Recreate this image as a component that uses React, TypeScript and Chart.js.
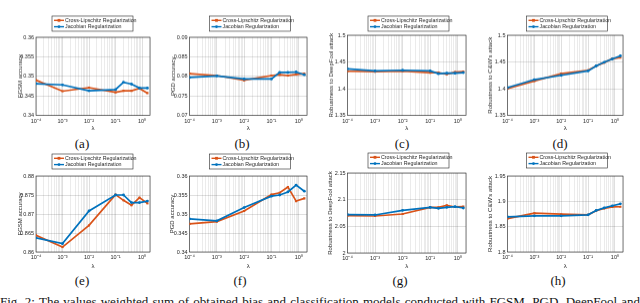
import React, { useEffect, useRef } from "react";
import { Chart, registerables } from "chart.js";
Chart.register(...registerables);

// ---------- data ----------
const lambdas = [1e-4, 1e-3, 1e-2, 0.1, 0.2, 0.4, 0.8, 1.6];
const seriesNames = ["Cross-Lipschitz Regularization", "Jacobian Regularization"];
const xTickValues = [1e-4, 1e-3, 1e-2, 1e-1, 1];
const xTickLabels = ["10\u207B\u2074", "10\u207B\u00B3", "10\u207B\u00B2", "10\u207B\u00B9", "10\u2070"];
const xRange = [1e-4, 2];
const yTitles = ["FGSM accuracy", "PGD accuracy", "Robustness to DeepFool attack", "Robustness to C&W's attack"];
const subLabels = ["(a)", "(b)", "(c)", "(d)", "(e)", "(f)", "(g)", "(h)"];
const caption = "Fig. 2: The values weighted sum of obtained bias and classification models conducted with FGSM, PGD, DeepFool and";

const yTicksA = [0.34, 0.345, 0.35, 0.355, 0.36];
const yTicksB = [0.07, 0.075, 0.08, 0.085, 0.09];
const yTicksC = [1.35, 1.4, 1.45, 1.5];
const yTicksD = [1.35, 1.4, 1.45, 1.5];
const yTicksE = [0.86, 0.865, 0.87, 0.875, 0.88];
const yTicksF = [0.34, 0.345, 0.35, 0.355, 0.36];
const yTicksG = [2, 2.05, 2.1, 2.15];
const yTicksH = [1.8, 1.85, 1.9, 1.95];

const aCL = [0.3490, 0.3462, 0.3471, 0.3459, 0.3463, 0.3463, 0.3469, 0.3457];
const aJR = [0.3481, 0.3478, 0.3463, 0.3466, 0.3485, 0.3480, 0.3470, 0.3470];
const bCL = [0.0807, 0.0802, 0.0790, 0.0802, 0.0804, 0.0802, 0.0805, 0.0807];
const bJR = [0.0797, 0.0801, 0.0793, 0.0793, 0.0810, 0.0810, 0.0811, 0.0804];
const cCL = [1.4325, 1.4319, 1.4325, 1.4300, 1.4300, 1.4269, 1.4310, 1.4320];
const cJR = [1.4369, 1.4331, 1.4344, 1.4331, 1.4280, 1.4290, 1.4290, 1.4300];
const dCL = [1.4000, 1.4144, 1.4280, 1.4344, 1.4425, 1.4488, 1.4560, 1.4580];
const dJR = [1.4019, 1.4169, 1.4250, 1.4331, 1.4425, 1.4494, 1.4556, 1.4613];
const eCL = [0.8644, 0.8613, 0.8670, 0.8751, 0.8736, 0.8723, 0.8743, 0.8728];
const eJR = [0.8637, 0.8622, 0.8708, 0.8750, 0.8750, 0.8730, 0.8730, 0.8734];
const fCL = [0.3474, 0.3480, 0.3508, 0.3551, 0.3556, 0.3571, 0.3534, 0.3541];
const fJR = [0.3487, 0.3482, 0.3517, 0.3547, 0.3550, 0.3558, 0.3576, 0.3560];
const gCL = [2.0700, 2.0694, 2.0731, 2.0856, 2.0856, 2.0894, 2.0863, 2.0869];
const gJR = [2.0719, 2.0713, 2.0800, 2.0856, 2.0838, 2.0856, 2.0869, 2.0844];
const hCL = [1.8660, 1.8766, 1.8746, 1.8733, 1.8813, 1.8860, 1.8890, 1.8893];
const hJR = [1.8693, 1.8713, 1.8713, 1.8733, 1.8820, 1.8872, 1.8912, 1.8951];

// ---------- styles / layout ----------
const ORANGE = "#D95319";
const BLUE = "#0072BD";
const TXT = "#262626";
const FONT = "'Liberation Sans', Arial, sans-serif";

type Layout = { plotL: number; plotR: number; plotT: number; plotB: number; titleX: number; legendCX: number; legendTop: number; lambdaY: number; labelCX: number; labelCY: number };

const panels: { yTitle: string; yTicks: number[]; cl: number[]; jr: number[]; label: string; L: Layout }[] = [
  { yTitle: yTitles[0], yTicks: yTicksA, cl: aCL, jr: aJR, label: subLabels[0], L: { plotL: 36, plotR: 150, plotT: 37, plotB: 115, titleX: 20, legendCX: 92.5, legendTop: 16, lambdaY: 127.5, labelCX: 82, labelCY: 144 } },
  { yTitle: yTitles[1], yTicks: yTicksB, cl: bCL, jr: bJR, label: subLabels[1], L: { plotL: 189, plotR: 307, plotT: 37, plotB: 115, titleX: 172.5, legendCX: 249.5, legendTop: 16, lambdaY: 127.5, labelCX: 242, labelCY: 144 } },
  { yTitle: yTitles[2], yTicks: yTicksC, cl: cCL, jr: cJR, label: subLabels[2], L: { plotL: 347, plotR: 466, plotT: 35, plotB: 115, titleX: 330.5, legendCX: 408, legendTop: 16, lambdaY: 127.5, labelCX: 402, labelCY: 144 } },
  { yTitle: yTitles[3], yTicks: yTicksD, cl: dCL, jr: dJR, label: subLabels[3], L: { plotL: 507, plotR: 623, plotT: 35, plotB: 115, titleX: 489.5, legendCX: 566.5, legendTop: 16, lambdaY: 127.5, labelCX: 560, labelCY: 144 } },
  { yTitle: yTitles[0], yTicks: yTicksE, cl: eCL, jr: eJR, label: subLabels[4], L: { plotL: 36, plotR: 150, plotT: 176, plotB: 252, titleX: 20, legendCX: 92.5, legendTop: 154, lambdaY: 266, labelCX: 82, labelCY: 281 } },
  { yTitle: yTitles[1], yTicks: yTicksF, cl: fCL, jr: fJR, label: subLabels[5], L: { plotL: 189, plotR: 307, plotT: 176, plotB: 252, titleX: 171.5, legendCX: 249.5, legendTop: 154, lambdaY: 266, labelCX: 240, labelCY: 281 } },
  { yTitle: yTitles[2], yTicks: yTicksG, cl: gCL, jr: gJR, label: subLabels[6], L: { plotL: 347, plotR: 466, plotT: 173, plotB: 253, titleX: 329.5, legendCX: 408, legendTop: 153, lambdaY: 266, labelCX: 400, labelCY: 281 } },
  { yTitle: yTitles[3], yTicks: yTicksH, cl: hCL, jr: hJR, label: subLabels[7], L: { plotL: 507, plotR: 623, plotT: 176, plotB: 252, titleX: 489.5, legendCX: 566.5, legendTop: 153, lambdaY: 266, labelCX: 558, labelCY: 281 } },
];

const isPow10 = (v: number) => xTickValues.some((t) => Math.abs(v - t) / t < 1e-6);
const gridPositions = (): number[] => {
  const out: number[] = [];
  for (let e = -4; e <= 0; e++) for (let m = 1; m <= 9; m++) {
    const v = m * Math.pow(10, e);
    if (v <= xRange[1] * 1.0001) out.push(Number(v.toPrecision(6)));
  }
  if (out[out.length - 1] < xRange[1]) out.push(xRange[1]);
  return out;
};
const fmtY = (v: number) => String(Number(v.toFixed(4)));

function geom(L: Layout) {
  const x0 = L.titleX - 5;
  const y0 = L.legendTop - 1;
  const W = L.plotR + 6 - x0;
  const H = L.lambdaY + 4 - y0;
  return { x0, y0, W, H };
}

function Panel({ p }: { p: (typeof panels)[number] }) {
  const ref = useRef<HTMLCanvasElement | null>(null);
  const { x0, y0, W, H } = geom(p.L);
  useEffect(() => {
    const L = p.L;
    const frame = {
      id: "frameLegend",
      beforeDatasetsDraw(chart: any) {
        const { ctx, chartArea: a } = chart;
        ctx.save();
        ctx.strokeStyle = TXT;
        ctx.lineWidth = 0.6;
        ctx.strokeRect(a.left, a.top, a.right - a.left, a.bottom - a.top);
        ctx.restore();
      },
      afterDraw(chart: any) {
        const { ctx } = chart;
        const lw = 81, lh = 15;
        const lx = L.legendCX - x0 - lw / 2;
        const ly = L.legendTop - y0;
        ctx.save();
        ctx.fillStyle = "#fff";
        ctx.fillRect(lx, ly, lw, lh);
        ctx.strokeStyle = TXT;
        ctx.lineWidth = 0.6;
        ctx.strokeRect(lx, ly, lw, lh);
        const rows = [
          { name: seriesNames[0], color: ORANGE, y: ly + 4.3, shape: "rect" },
          { name: seriesNames[1], color: BLUE, y: ly + 10.6, shape: "circle" },
        ];
        ctx.font = `5.3px ${FONT}`;
        ctx.textBaseline = "middle";
        ctx.textAlign = "left";
        for (const r of rows) {
          ctx.strokeStyle = r.color;
          ctx.lineWidth = 1.4;
          ctx.beginPath();
          ctx.moveTo(lx + 2, r.y);
          ctx.lineTo(lx + 12, r.y);
          ctx.stroke();
          ctx.fillStyle = r.color;
          if (r.shape === "rect") ctx.fillRect(lx + 5.6, r.y - 1.4, 2.8, 2.8);
          else { ctx.beginPath(); ctx.arc(lx + 7, r.y, 1.4, 0, Math.PI * 2); ctx.fill(); }
          ctx.fillStyle = TXT;
          ctx.fillText(r.name, lx + 13, r.y + 0.3);
        }
        ctx.restore();
      },
    };
    const mk = (arr: number[]) => lambdas.map((x, i) => ({ x, y: arr[i] }));
    const chart = new Chart(ref.current as HTMLCanvasElement, {
      type: "line",
      data: {
        datasets: [
          { label: seriesNames[0], data: mk(p.cl), borderColor: ORANGE, backgroundColor: ORANGE, borderWidth: 1.7, pointStyle: "rect", pointRadius: 1.5, pointBorderWidth: 0, order: 2, tension: 0 },
          { label: seriesNames[1], data: mk(p.jr), borderColor: BLUE, backgroundColor: BLUE, borderWidth: 1.7, pointStyle: "circle", pointRadius: 1.4, pointBorderWidth: 0, order: 1, tension: 0 },
        ],
      },
      options: {
        responsive: false,
        animation: false,
        devicePixelRatio: 1,
        layout: { padding: { left: 0, top: L.plotT - y0, right: 6, bottom: 0 } },
        plugins: { legend: { display: false }, tooltip: { enabled: false }, title: { display: false } },
        scales: {
          x: {
            type: "logarithmic",
            min: xRange[0],
            max: xRange[1],
            afterBuildTicks: (s: any) => { s.ticks = gridPositions().map((v) => ({ value: v, major: isPow10(v) })); },
            afterFit: (s: any) => { s.height = H - (L.plotB - y0); },
            border: { display: false },
            grid: {
              drawTicks: false,
              lineWidth: 0.8,
              color: (c: any) => (c.tick && isPow10(c.tick.value) ? "rgba(0,0,0,0.16)" : "rgba(0,0,0,0.10)"),
            },
            ticks: {
              autoSkip: false,
              maxRotation: 0,
              padding: 2.5,
              color: TXT,
              font: { family: FONT, size: 5.5 },
              callback: (v: any) => {
                const i = xTickValues.findIndex((t) => Math.abs(Number(v) - t) / t < 1e-6);
                return i >= 0 ? xTickLabels[i] : "";
              },
            },
            title: { display: true, text: "\u03BB", color: TXT, font: { family: FONT, size: 6 }, padding: { top: 0, bottom: 0.4 } },
          },
          y: {
            type: "linear",
            min: p.yTicks[0],
            max: p.yTicks[p.yTicks.length - 1],
            afterBuildTicks: (s: any) => { s.ticks = p.yTicks.map((v) => ({ value: v })); },
            afterFit: (s: any) => { s.width = L.plotL - x0; },
            border: { display: false },
            grid: { drawTicks: false, lineWidth: 0.8, color: "rgba(0,0,0,0.16)" },
            ticks: { padding: 2, color: TXT, font: { family: FONT, size: 5.5 }, callback: (v: any) => fmtY(Number(v)) },
            title: { display: true, text: p.yTitle, color: TXT, font: { family: FONT, size: 6 }, padding: { top: 1.4, bottom: 0 } },
          },
        },
      },
      plugins: [frame],
    } as any);
    return () => chart.destroy();
  }, []);
  return (
    <canvas
      ref={ref}
      width={W}
      height={H}
      style={{ position: "absolute", left: x0, top: y0, width: W, height: H }}
    />
  );
}

export default function App() {
  const words = caption.split(" ");
  return (
    <div style={{ position: "absolute", left: 0, top: 0, width: 640, height: 303, overflow: "hidden", background: "#fff" }}>
      {panels.map((p, i) => (
        <Panel key={i} p={p} />
      ))}
      {panels.map((p, i) => (
        <div
          key={"l" + i}
          style={{ position: "absolute", left: p.L.labelCX - 20, width: 40, top: p.L.labelCY - 8, height: 16, lineHeight: "16px", textAlign: "center", fontFamily: "'Liberation Serif', 'Times New Roman', serif", fontSize: 13, color: "#111" }}
        >
          {p.label}
        </div>
      ))}
      <div
        style={{ position: "absolute", left: 0, top: 294, width: 640, display: "flex", justifyContent: "space-between", whiteSpace: "nowrap", fontFamily: "'Liberation Serif', 'Times New Roman', serif", fontSize: 13, lineHeight: "16px", color: "#111" }}
      >
        {words.map((w, i) => (
          <span key={i}>{w}</span>
        ))}
      </div>
    </div>
  );
}
